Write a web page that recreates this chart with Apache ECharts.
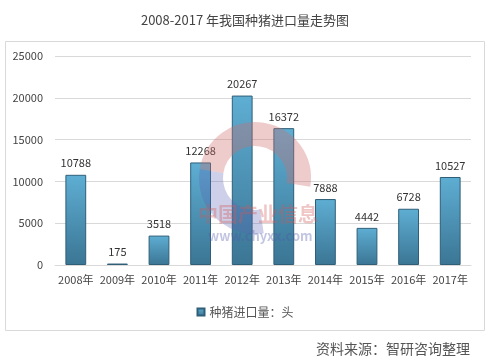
<!DOCTYPE html>
<html><head><meta charset="utf-8">
<script src="https://cdn.jsdelivr.net/npm/echarts@6/dist/echarts.min.js"></script>
<style>html,body{margin:0;padding:0;background:#fff}#c{width:490px;height:364px}</style>
</head><body><div id="c"></div>
<script>
var categories = ['2008年','2009年','2010年','2011年','2012年','2013年','2014年','2015年','2016年','2017年'];
var values = [10788,175,3518,12268,20267,16372,7888,4442,6728,10527];
var yTicks = [0,5000,10000,15000,20000,25000];
var seriesName = '种猪进口量：头';
var font = '"Microsoft YaHei","Noto Sans CJK SC",sans-serif';
var chart = echarts.init(document.getElementById('c'));
chart.setOption({
  animation:false,
  title:{text:'2008-2017 年我国种猪进口量走势图',left:'center',top:9,textStyle:{fontSize:13,fontWeight:'normal',color:'#444',fontFamily:font}},
  graphic:[
    {type:'rect',shape:{x:5.5,y:41.5,width:479,height:289},style:{fill:'none',stroke:'#d9d9d9',lineWidth:1},z:-1},
    {type:'text',right:20,top:342,style:{text:'资料来源：智研咨询整理',font:'14px '+font,fill:'#555'}},
    {type:'arc',shape:{cx:255,cy:178,r:44,startAngle:Math.PI*1.05,endAngle:Math.PI*2.05},style:{fill:'none',stroke:'rgba(205,110,110,0.35)',lineWidth:24},z:10},
    {type:'arc',shape:{cx:255,cy:178,r:44,startAngle:Math.PI*0.45,endAngle:Math.PI*1.05},style:{fill:'none',stroke:'rgba(90,100,180,0.3)',lineWidth:24},z:10},
    {type:'text',left:198,top:204,style:{text:'中国产业信息',font:'bold 20px '+font,fill:'rgba(210,90,90,0.35)'},z:10},
    {type:'text',left:208,top:230,style:{text:'www.chyxx.com',font:'bold 13px '+font,fill:'rgba(80,90,170,0.35)'},z:10}
  ],
  grid:{left:55,right:19,top:56,bottom:99},
  legend:{data:[seriesName],top:301,left:'center',itemWidth:7,itemHeight:7,icon:'rect',textStyle:{fontSize:12,color:'#555',fontFamily:font}},
  xAxis:{type:'category',data:categories,axisTick:{show:false},axisLine:{lineStyle:{color:'#d9d9d9'}},axisLabel:{color:'#444',fontSize:11,fontFamily:font,interval:0,margin:9}},
  yAxis:{type:'value',min:yTicks[0],max:yTicks[yTicks.length-1],interval:5000,axisLine:{show:false},axisTick:{show:false},splitLine:{lineStyle:{color:'#d9d9d9'}},axisLabel:{color:'#444',fontSize:11,fontFamily:font,margin:12,formatter:function(v){return String(v);}}},
  series:[{name:seriesName,type:'bar',data:values,barWidth:'50%',
    itemStyle:{color:new echarts.graphic.LinearGradient(0,0,0,1,[{offset:0,color:'#5eaed3'},{offset:1,color:'#3b7594'}]),borderColor:'#2f5f78',borderWidth:1},
    label:{show:true,position:'top',distance:6,color:'#333',fontSize:11,fontFamily:font}}]
});
</script></body></html>
